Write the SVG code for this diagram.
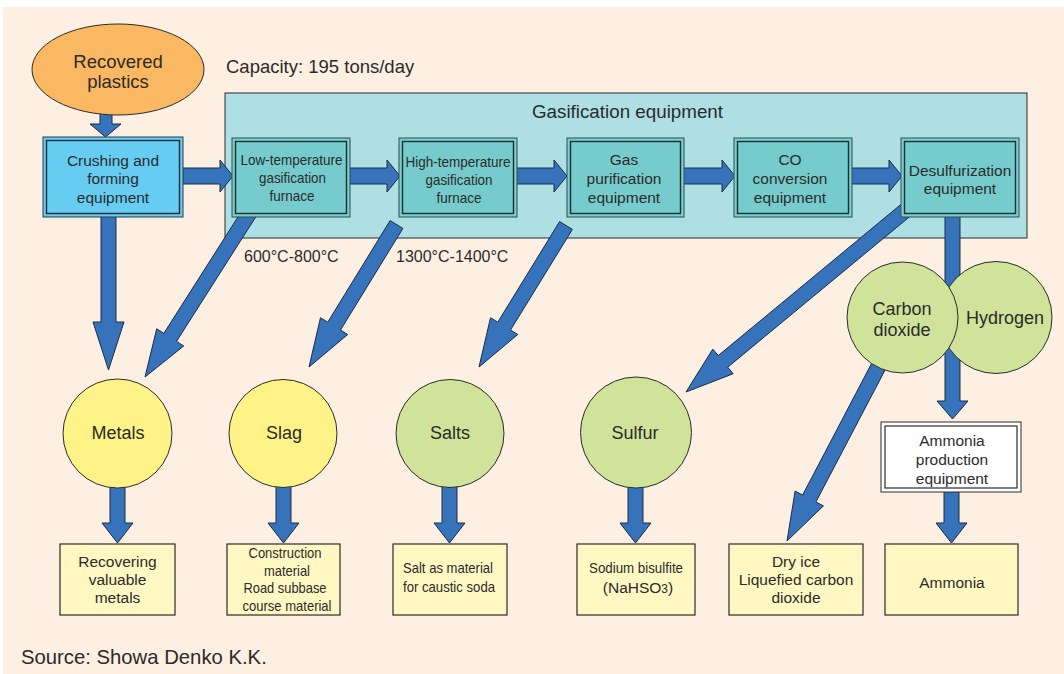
<svg xmlns="http://www.w3.org/2000/svg" width="1064" height="674" viewBox="0 0 1064 674">
<style>
.t{font-family:"Liberation Sans",Arial,sans-serif;fill:#2b2b2b;text-anchor:middle}
.s15{font-size:15.5px}
.s18{font-size:18px}
.n{font-size:15px}
.arrow{fill:#3673BB;stroke:#1c2c44;stroke-width:1;stroke-linejoin:miter}
.teal-o{fill:#7ACFCF;stroke:#2e4f4f;stroke-width:1}
.teal-i{fill:#76CCCC;stroke:#1f2f2f;stroke-width:1.4}
.res{fill:#FFF8C3;stroke:#2a2a2a;stroke-width:1.2}
.yc{fill:#FFF388;stroke:#2a2a2a;stroke-width:1}
.gc{fill:#D0E39B;stroke:#2a2a2a;stroke-width:1}
</style>
<rect x="0" y="0" width="1064" height="674" fill="#ffffff"/>
<rect x="3" y="7" width="1061" height="667" fill="#FDF0E2"/>

<g id="gasification-equipment">
<rect x="225" y="93" width="802" height="145" fill="#ADDFE3" stroke="#2a2a2a" stroke-width="1"/>
<text class="t" x="627.5" y="118" style="font-size:18.8px">Gasification equipment</text>
</g>

<text class="t" x="226" y="73" style="font-size:18.5px;text-anchor:start">Capacity: 195 tons/day</text>
<text class="t" x="244" y="261.5" style="font-size:16px;text-anchor:start">600°C-800°C</text>
<text class="t" x="396" y="261.5" style="font-size:16px;text-anchor:start">1300°C-1400°C</text>
<text class="t" x="21" y="664" style="font-size:20.3px;text-anchor:start">Source: Showa Denko K.K.</text>

<g id="connectors">
<polygon class="arrow" points="100,108 112,108 112,124 121,124 105.5,137 90,124 100,124"/>
<polygon class="arrow" points="101,215 116,215 116,322 124,322 108.5,370 93,322 101,322"/>
<polygon class="arrow" points="945,215 960,215 960,401 968,401 952.5,419 937,401 945,401"/>
<polygon class="arrow" points="944,490 959,490 959,523 967,523 951.5,543 936,523 944,523"/>
<polygon class="arrow" points="110,486 125,486 125,523 133,523 117.5,543 102,523 110,523"/>
<polygon class="arrow" points="276,486 291,486 291,523 299,523 283.5,543 268,523 276,523"/>
<polygon class="arrow" points="442,486 457,486 457,523 465,523 449.5,543 434,523 442,523"/>
<polygon class="arrow" points="628,486 643,486 643,523 651,523 635.5,543 620,523 628,523"/>
<polygon class="arrow" points="181,168 220,168 220,160 233,176 220,192 220,184 181,184"/>
<polygon class="arrow" points="348,168 387,168 387,160 400,176 387,192 387,184 348,184"/>
<polygon class="arrow" points="515,168 554,168 554,160 567,176 554,192 554,184 515,184"/>
<polygon class="arrow" points="682,168 722,168 722,160 735,176 722,192 722,184 682,184"/>
<polygon class="arrow" points="850,168 889,168 889,160 902,176 889,192 889,184 850,184"/>
<polygon class="arrow" points="243.67,207.97 163.87,333.32 156.7,328.76 145,377 183.7,345.94 176.53,341.38 256.33,216.03"/>
<polygon class="arrow" points="390.11,220.58 327.73,322.17 320.48,317.72 309,367 347.76,334.46 340.51,330.01 402.89,228.42"/>
<polygon class="arrow" points="559.61,221.57 497.75,322.18 490.51,317.73 479,367 517.77,334.49 510.53,330.04 572.39,229.43"/>
<polygon class="arrow" points="907.22,199.22 718.2,355.62 712.78,349.07 686,392 733.18,373.73 727.76,367.18 916.78,210.78"/>
<polygon class="arrow" points="878.36,350.52 802.64,495 795.11,491.05 787,541 823.45,505.91 815.92,501.96 891.64,357.48"/>
</g>

<g id="recovered-plastics">
<ellipse cx="118" cy="69.5" rx="86" ry="45.5" fill="#FBB862" stroke="#2a2a2a" stroke-width="1"/>
<text class="t" x="118" y="68" style="font-size:18.5px">Recovered</text>
<text class="t" x="118" y="88" style="font-size:18.5px">plastics</text>
</g>

<g id="crushing">
<rect x="43" y="137" width="140" height="80" fill="#66CCF2" stroke="#2a3a44" stroke-width="1"/>
<rect x="46.5" y="140.5" width="133" height="73" fill="#66CCF2" stroke="#1c2a33" stroke-width="1.4"/>
<text class="t s15" x="113" y="165.5">Crushing and</text>
<text class="t s15" x="113" y="184">forming</text>
<text class="t s15" x="113" y="202.5">equipment</text>
</g>

<g id="low-temp-furnace">
<rect class="teal-o" x="232" y="138" width="118" height="79"/>
<rect class="teal-i" x="235.5" y="141.5" width="111" height="72"/>
<text class="t n" x="291.5" y="165" textLength="102" lengthAdjust="spacingAndGlyphs">Low-temperature</text>
<text class="t n" x="292.5" y="183" textLength="67" lengthAdjust="spacingAndGlyphs">gasification</text>
<text class="t n" x="292" y="201" textLength="45" lengthAdjust="spacingAndGlyphs">furnace</text>
</g>

<g id="high-temp-furnace">
<rect class="teal-o" x="399" y="138" width="118" height="79"/>
<rect class="teal-i" x="402.5" y="141.5" width="111" height="72"/>
<text class="t n" x="458" y="166.5" textLength="105" lengthAdjust="spacingAndGlyphs">High-temperature</text>
<text class="t n" x="459" y="184.5" textLength="67" lengthAdjust="spacingAndGlyphs">gasification</text>
<text class="t n" x="459" y="202.5" textLength="45" lengthAdjust="spacingAndGlyphs">furnace</text>
</g>

<g id="gas-purification">
<rect class="teal-o" x="567" y="138" width="117" height="79"/>
<rect class="teal-i" x="570.5" y="141.5" width="110" height="72"/>
<text class="t s15" x="624" y="164.5">Gas</text>
<text class="t s15" x="624" y="183.5">purification</text>
<text class="t s15" x="624" y="202.5">equipment</text>
</g>

<g id="co-conversion">
<rect class="teal-o" x="734" y="138" width="118" height="79"/>
<rect class="teal-i" x="737.5" y="141.5" width="111" height="72"/>
<text class="t s15" x="790" y="164.5">CO</text>
<text class="t s15" x="790" y="183.5">conversion</text>
<text class="t s15" x="790" y="202.5">equipment</text>
</g>

<g id="desulfurization">
<rect class="teal-o" x="901" y="138" width="118" height="79"/>
<rect class="teal-i" x="904.5" y="141.5" width="111" height="72"/>
<text class="t s15" x="960" y="175.5">Desulfurization</text>
<text class="t s15" x="960" y="194">equipment</text>
</g>

<g id="hydrogen">
<circle class="gc" cx="996" cy="317.5" r="56"/>
<text class="t s18" x="1005" y="324">Hydrogen</text>
</g>

<g id="carbon-dioxide">
<circle class="gc" cx="902.5" cy="317.5" r="55.5"/>
<text class="t s18" x="902" y="314.5">Carbon</text>
<text class="t s18" x="902" y="335.5">dioxide</text>
</g>

<g id="ammonia-production">
<rect x="881" y="422" width="140" height="70" fill="#ffffff" stroke="#2a2a2a" stroke-width="1"/>
<rect x="885" y="426" width="132" height="62" fill="#ffffff" stroke="#2a2a2a" stroke-width="1.2"/>
<text class="t s15" x="952" y="445.5">Ammonia</text>
<text class="t s15" x="952" y="464.5">production</text>
<text class="t s15" x="952" y="483.5">equipment</text>
</g>

<g id="metals">
<circle class="yc" cx="117.5" cy="433.5" r="54.5"/>
<text class="t s18" x="118" y="438.5">Metals</text>
</g>
<g id="slag">
<circle class="yc" cx="283" cy="433.5" r="54"/>
<text class="t s18" x="284" y="438.5">Slag</text>
</g>
<g id="salts">
<circle class="gc" cx="450" cy="433.5" r="54"/>
<text class="t s18" x="450" y="438.5">Salts</text>
</g>
<g id="sulfur">
<circle class="gc" cx="636" cy="432.5" r="55.5"/>
<text class="t s18" x="635" y="438.5">Sulfur</text>
</g>

<g id="recovering-metals">
<rect class="res" x="60" y="544" width="115" height="71"/>
<text class="t s15" x="117.5" y="566.5">Recovering</text>
<text class="t s15" x="117.5" y="584.5">valuable</text>
<text class="t s15" x="117.5" y="602.5">metals</text>
</g>
<g id="construction-material">
<rect class="res" x="227" y="544" width="113" height="71"/>
<text class="t n" x="285" y="558" textLength="73" lengthAdjust="spacingAndGlyphs">Construction</text>
<text class="t n" x="287" y="576" textLength="46" lengthAdjust="spacingAndGlyphs">material</text>
<text class="t n" x="285" y="593" textLength="83" lengthAdjust="spacingAndGlyphs">Road subbase</text>
<text class="t n" x="287" y="611" textLength="89" lengthAdjust="spacingAndGlyphs">course material</text>
</g>
<g id="salt-material">
<rect class="res" x="393" y="544" width="114" height="71"/>
<text class="t n" x="448" y="573" textLength="90" lengthAdjust="spacingAndGlyphs">Salt as material</text>
<text class="t n" x="449" y="592" textLength="92" lengthAdjust="spacingAndGlyphs">for caustic soda</text>
</g>
<g id="sodium-bisulfite">
<rect class="res" x="577" y="544" width="118" height="71"/>
<text class="t n" x="636" y="573" textLength="94" lengthAdjust="spacingAndGlyphs">Sodium bisulfite</text>
<text class="t s15" x="638" y="593">(NaHSO<tspan style="font-size:12px">3</tspan>)</text>
</g>
<g id="dry-ice">
<rect class="res" x="729" y="544" width="134" height="71"/>
<text class="t s15" x="796" y="566.5">Dry ice</text>
<text class="t s15" x="796" y="584.5">Liquefied carbon</text>
<text class="t s15" x="796" y="602.5">dioxide</text>
</g>
<g id="ammonia">
<rect class="res" x="885" y="544" width="133" height="71"/>
<text class="t s15" x="952" y="587.5">Ammonia</text>
</g>
</svg>
